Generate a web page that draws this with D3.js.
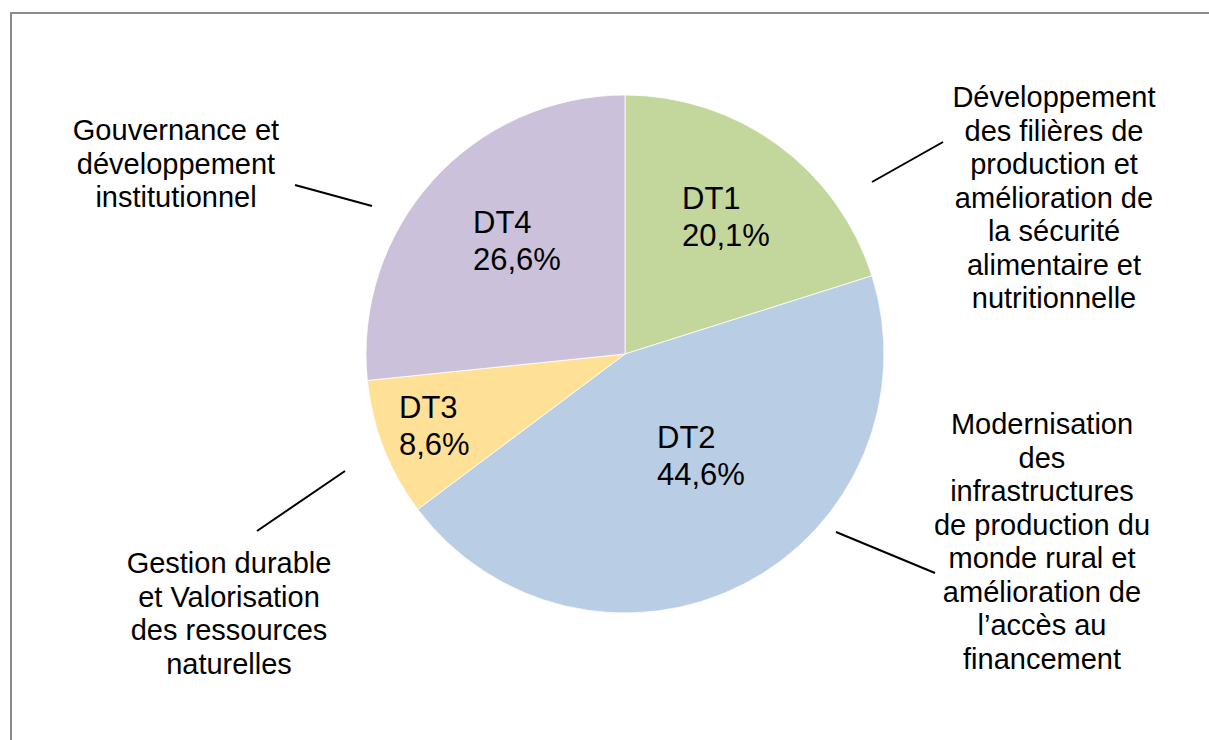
<!DOCTYPE html>
<html>
<head>
<meta charset="utf-8">
<script src="https://cdn.jsdelivr.net/npm/d3@7"></script>
<style>
  body { margin: 0; background: #fff; }
  text { font-family: "Liberation Sans", Arial, sans-serif; fill: #000; }
</style>
</head>
<body>
<div id="chart"></div>
<script>
// data
var categories = ["DT1", "DT2", "DT3", "DT4"];
var values = [20.1, 44.6, 8.6, 26.6];
var valueLabels = ["20,1%", "44,6%", "8,6%", "26,6%"];
var descriptions = [
  ["Développement", "des filières de", "production et", "amélioration de", "la sécurité", "alimentaire et", "nutritionnelle"],
  ["Modernisation", "des", "infrastructures", "de production du", "monde rural et", "amélioration de", "l\u2019accès au", "financement"],
  ["Gestion durable", "et Valorisation", "des ressources", "naturelles"],
  ["Gouvernance et", "développement", "institutionnel"]
];
var colors = ["#C3D69B", "#B9CDE5", "#FEE196", "#CBC1DA"];

// layout of the labels (placed by hand like in the original)
var innerPos = [[682, 209], [657, 448], [399, 418], [473, 233]];
var outerPos = [[1054, 107], [1042, 434], [229, 573], [176, 140]];
var leaders = [
  [[872, 182], [943, 142]],
  [[836, 532], [935, 573]],
  [[257, 531], [345, 471]],
  [[295, 185], [372, 206]]
];

var width = 1209, height = 740;
var cx = 625, cy = 354, radius = 259;

var svg = d3.select("#chart")
  .append("svg")
    .attr("width", width)
    .attr("height", height);

// frame
svg.append("rect")
  .attr("x", 11)
  .attr("y", 13)
  .attr("width", 1400)
  .attr("height", 900)
  .attr("fill", "none")
  .attr("stroke", "#8a8a8a")
  .attr("stroke-width", 2);

var data = categories.map(function(c, i) {
  return {name: c, value: values[i], label: valueLabels[i], desc: descriptions[i], color: colors[i]};
});

var pie = d3.pie()
  .sort(null)
  .value(function(d) { return d.value; });

var arc = d3.arc()
  .innerRadius(0)
  .outerRadius(radius);

var g = svg.append("g")
  .attr("transform", "translate(" + cx + "," + cy + ")");

g.selectAll("path")
  .data(pie(data))
  .enter()
  .append("path")
    .attr("d", arc)
    .attr("fill", function(d) { return d.data.color; })
    .attr("stroke", "#fff")
    .attr("stroke-width", 0.8);

// labels inside the slices
data.forEach(function(d, i) {
  var t = svg.append("text")
    .attr("x", innerPos[i][0])
    .attr("y", innerPos[i][1])
    .style("font-size", "31px");
  t.append("tspan").attr("x", innerPos[i][0]).text(d.name);
  t.append("tspan").attr("x", innerPos[i][0]).attr("dy", 36.5).text(d.label);
});

// outer descriptions
data.forEach(function(d, i) {
  var t = svg.append("text")
    .attr("x", outerPos[i][0])
    .attr("y", outerPos[i][1])
    .attr("text-anchor", "middle")
    .style("font-size", "29px");
  d.desc.forEach(function(line, j) {
    t.append("tspan")
      .attr("x", outerPos[i][0])
      .attr("dy", j === 0 ? 0 : 33.5)
      .text(line);
  });
});

// leader lines
leaders.forEach(function(l) {
  svg.append("line")
    .attr("x1", l[0][0])
    .attr("y1", l[0][1])
    .attr("x2", l[1][0])
    .attr("y2", l[1][1])
    .attr("stroke", "#000")
    .attr("stroke-width", 2);
});
</script>
</body>
</html>
